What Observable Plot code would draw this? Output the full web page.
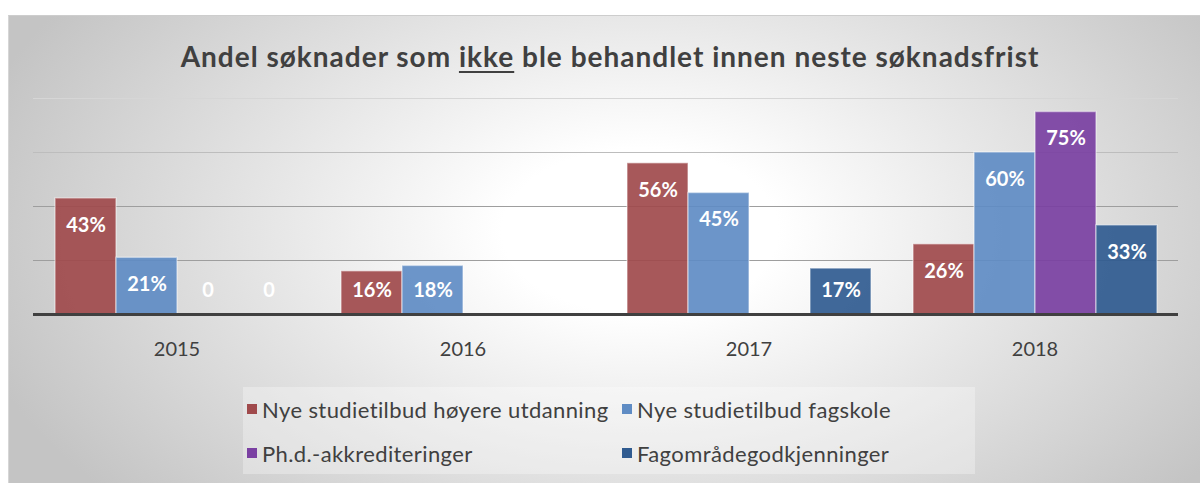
<!DOCTYPE html>
<html><head><meta charset="utf-8">
<script src="https://cdn.jsdelivr.net/npm/d3@7"></script>
<script src="https://cdn.jsdelivr.net/npm/@observablehq/plot@0.6"></script>
<style>
html,body{margin:0;padding:0;background:#fff;width:1200px;height:483px;overflow:hidden;font-family:Lato,"Open Sans",sans-serif;}
#frame{position:absolute;left:8px;top:15px;width:1192px;height:468px;box-sizing:border-box;border-left:1px solid #d6d6d6;border-top:1px solid #cdcdcd;background:radial-gradient(ellipse 58% 88% at 53% 46%, #ffffff 20%, #c4c4c4 100%);}
#title{position:absolute;left:20px;top:38px;width:1180px;text-align:center;font-weight:700;font-size:28px;letter-spacing:1px;color:#404040;line-height:36px;}
#title u{text-decoration-thickness:2px;text-underline-offset:4px;}
#chart{position:absolute;left:0;top:0;}
#legend{position:absolute;left:243px;top:387px;width:732px;height:87px;background:rgba(255,255,255,0.3);display:grid;grid-template-columns:375px 357px;grid-auto-rows:44px;color:#404040;font-size:22px;letter-spacing:0.4px;}
#legend .item{display:flex;align-items:center;}
#legend .sw{width:10px;height:10px;margin-left:4px;margin-right:5px;flex:none;}
</style></head>
<body>
<div id="frame"></div>
<div id="chart"></div>
<div id="title">Andel søknader som <u>ikke</u> ble behandlet innen neste søknadsfrist</div>
<div id="legend"></div>
<script>
const years = ["2015", "2016", "2017", "2018"];
const series = ["Nye studietilbud høyere utdanning", "Nye studietilbud fagskole", "Ph.d.-akkrediteringer", "Fagområdegodkjenninger"];
const colors = ["#a04a4c", "#5f8cc4", "#7a40a2", "#305b90"];
const values2015 = [43, 21, 0, 0];
const values2016 = [16, 18, null, null];
const values2017 = [56, 45, null, 17];
const values2018 = [26, 60, 75, 33];
const gridTicks = [20, 40, 60, 80];

const valuesByYear = [values2015, values2016, values2017, values2018];
const data = years.flatMap((y, i) => series.map((s, j) => ({year: y, series: s, value: valuesByYear[i][j]})))
  .filter(d => d.value != null);

const chart = Plot.plot({
  width: 1200, height: 370,
  marginLeft: 32, marginRight: 21, marginTop: 98, marginBottom: 56,
  style: {background: "transparent", overflow: "visible", fontSize: "20px", color: "#404040", fontFamily: "Lato, 'Open Sans', sans-serif"},
  fx: {domain: years, paddingInner: 0.145, paddingOuter: 0.073, label: null, axis: "bottom", tickSize: 0, tickPadding: 27},
  x: {domain: series, padding: 0, axis: null},
  y: {domain: [0, 80], axis: null},
  color: {domain: series, range: colors},
  marks: [
    Plot.ruleY(gridTicks.filter(t => t <= 40), {stroke: "#9e9e9e", strokeWidth: 1.2, insetLeft: -21, insetRight: -21}),
    Plot.ruleY(gridTicks.filter(t => t === 60), {stroke: "#bdbdbd", strokeWidth: 1.2, insetLeft: -21, insetRight: -21}),
    Plot.ruleY(gridTicks.filter(t => t === 80), {stroke: "#d6d6d6", strokeWidth: 1.2, insetLeft: -21, insetRight: -21}),
    Plot.barY(data, {fx: "year", x: "series", y: "value", fill: "series", fillOpacity: 0.92, stroke: "#ffffff", strokeOpacity: 0.45, strokeWidth: 1.5}),
    Plot.ruleY([0], {stroke: "#404040", strokeWidth: 3, insetLeft: -21, insetRight: -21}),
    Plot.text(data, {fx: "year", x: "series", y: d => Math.max(d.value - 10, 8.9), text: d => d.value === 0 ? "0" : d.value + "%", fill: "white", fontWeight: 700, fontSize: 20, letterSpacing: "0.5px"})
  ]
});
document.getElementById("chart").appendChild(chart);

const legend = document.getElementById("legend");
series.forEach((s, i) => {
  const it = document.createElement("div");
  it.className = "item";
  const sw = document.createElement("span");
  sw.className = "sw";
  sw.style.background = colors[i];
  const tx = document.createElement("span");
  tx.textContent = s;
  it.appendChild(sw); it.appendChild(tx);
  legend.appendChild(it);
});
</script>
</body></html>
